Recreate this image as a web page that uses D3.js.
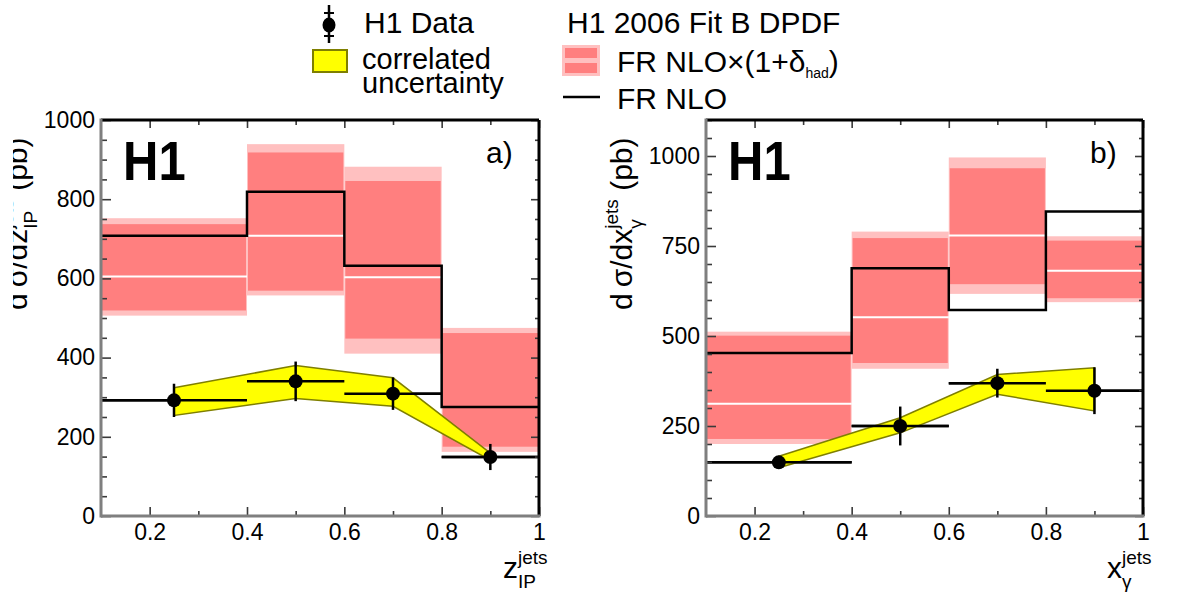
<!DOCTYPE html>
<html>
<head>
<meta charset="utf-8">
<script src="https://cdn.jsdelivr.net/npm/d3@7"></script>
<style>
  html, body { margin: 0; padding: 0; background: #fff; }
  svg { display: block; }
</style>
</head>
<body>
<div id="chart"></div>
<script>
// H1 diffractive dijets: dσ/dz_IP and dσ/dx_γ, data vs FR NLO (two panels)

// bins + data x positions (shared by both panels)
const binEdges = [0.1, 0.4, 0.6, 0.8, 1.0];
const dataX = [0.25, 0.5, 0.7, 0.9];

// panel a) — z_IP
const zNlo      = [708, 819, 632, 275];
const zHad      = [605, 708, 603, 275];
const zHadInLo  = [519, 569, 448, 175];
const zHadInHi  = [737, 918, 846, 462];
const zHadOutLo = [506, 557, 410, 162];
const zHadOutHi = [752, 939, 882, 475];
const zData     = [292, 340, 309, 149];
const zErr      = [42, 50, 41, 33];
const zCorrLo   = [254, 297, 277, 141];
const zCorrHi   = [324, 380, 349, 159];

// panel b) — x_gamma
const gNlo      = [453, 688, 572, 846];
const gHad      = [312, 552, 779, 681];
const gHadInLo  = [214, 425, 644, 605];
const gHadInHi  = [501, 772, 966, 765];
const gHadOutLo = [200, 409, 617, 594];
const gHadOutHi = [512, 790, 996, 777];
const gData     = [149, 250, 369, 348];
const gErr      = [14, 54, 40, 65];
const gCorrLo   = [134, 231, 338, 292];
const gCorrHi   = [166, 273, 393, 412];

// axis ticks
const xMajor = [0.2, 0.4, 0.6, 0.8, 1.0];
const xMinor = [0.3, 0.5, 0.7, 0.9];
const zYMajor = [0, 200, 400, 600, 800, 1000];
const gYMajor = [0, 250, 500, 750, 1000];

const FONT = "'Liberation Sans', Arial, Helvetica, sans-serif";
const PAL = {
  outer: '#ffc0c0',
  inner: '#ff7f7f',
  centre: '#ffffff',
  ink: '#000000',
  corr: '#ffff00',
  corrEdge: '#7f7f00',
  axis: '#7f7f7f',
  tick: '#3a3a3a',
};

const W = 1178, H = 595;
const TOP = 120, BOTTOM = 516;

const svg = d3.select('#chart').append('svg')
  .attr('width', W).attr('height', H)
  .style('font-family', FONT);

// text with stacked sub/superscripts; groups advance by their widest piece
function rich(g, x, y, groups, base) {
  let cx = x;
  groups.forEach(grp => {
    let w = 0;
    grp.forEach(p => {
      const t = g.append('text')
        .attr('x', cx).attr('y', y + (p.dy || 0))
        .attr('font-size', p.size || base)
        .attr('fill', PAL.ink)
        .text(p.t);
      w = Math.max(w, t.node().getComputedTextLength());
    });
    cx += w;
  });
  return cx;
}

function panel(o) {
  const x = d3.scaleLinear().domain([0.1, 1]).range([o.left, o.right]);
  const y = d3.scaleLinear().domain([0, o.yMax]).range([BOTTOM, TOP]);
  const g = svg.append('g');
  const bins = d3.range(binEdges.length - 1);
  const bx = i => x(binEdges[i]);
  const bw = i => x(binEdges[i + 1]) - x(binEdges[i]);

  // FR NLO x (1+δhad) bands
  g.selectAll('rect.outer').data(bins).join('rect')
    .attr('x', bx).attr('width', bw)
    .attr('y', i => y(o.outHi[i]))
    .attr('height', i => y(o.outLo[i]) - y(o.outHi[i]))
    .attr('fill', PAL.outer);
  g.selectAll('rect.inner').data(bins).join('rect')
    .attr('x', i => bx(i) + 1).attr('width', i => bw(i) - 2)
    .attr('y', i => y(o.inHi[i]))
    .attr('height', i => y(o.inLo[i]) - y(o.inHi[i]))
    .attr('fill', PAL.inner);
  g.selectAll('line.centre').data(bins).join('line')
    .attr('x1', bx).attr('x2', i => bx(i) + bw(i))
    .attr('y1', i => y(o.had[i])).attr('y2', i => y(o.had[i]))
    .attr('stroke', PAL.centre).attr('stroke-width', 2);

  // FR NLO histogram
  const steps = binEdges.map((e, i) => [e, o.nlo[Math.min(i, o.nlo.length - 1)]]);
  g.append('path')
    .attr('d', d3.line().x(d => x(d[0])).y(d => y(d[1])).curve(d3.curveStepAfter)(steps))
    .attr('fill', 'none').attr('stroke', PAL.ink).attr('stroke-width', 2.5);

  // data: horizontal bin bars
  g.selectAll('line.hbar').data(bins).join('line')
    .attr('x1', bx).attr('x2', i => bx(i) + bw(i))
    .attr('y1', i => y(o.data[i])).attr('y2', i => y(o.data[i]))
    .attr('stroke', PAL.ink).attr('stroke-width', 2.5);

  // correlated uncertainty band
  const corr = dataX.map((v, i) => [v, o.corrLo[i], o.corrHi[i]]);
  g.append('path')
    .attr('d', d3.area().x(d => x(d[0])).y0(d => y(d[1])).y1(d => y(d[2]))(corr))
    .attr('fill', PAL.corr).attr('stroke', PAL.corrEdge).attr('stroke-width', 1.5);

  // data: horizontal bars again on top, vertical error bars, markers
  g.selectAll('line.hbar2').data(bins).join('line')
    .attr('x1', bx).attr('x2', i => bx(i) + bw(i))
    .attr('y1', i => y(o.data[i])).attr('y2', i => y(o.data[i]))
    .attr('stroke', PAL.ink).attr('stroke-width', 2.5);
  g.selectAll('line.vbar').data(bins).join('line')
    .attr('x1', i => x(dataX[i])).attr('x2', i => x(dataX[i]))
    .attr('y1', i => y(o.data[i] - o.err[i])).attr('y2', i => y(o.data[i] + o.err[i]))
    .attr('stroke', PAL.ink).attr('stroke-width', 2.5);
  g.selectAll('circle.pt').data(bins).join('circle')
    .attr('cx', i => x(dataX[i])).attr('cy', i => y(o.data[i]))
    .attr('r', 7).attr('fill', PAL.ink);

  // axes — ticks point inward, domain lines replaced by frame
  const styleAxis = sel => {
    sel.select('.domain').remove();
    sel.selectAll('.tick line').attr('stroke', PAL.tick).attr('stroke-width', 1.6);
    sel.selectAll('.tick text').attr('fill', PAL.ink).attr('font-size', 23)
      .attr('font-family', FONT);
  };
  const fmt = d3.format('~g');
  const yMinor = d3.range(0, o.yMax + 1, 50).filter(v => !o.yMajor.includes(v));

  g.append('g').attr('transform', `translate(0,${BOTTOM})`)
    .call(d3.axisBottom(x).tickValues(xMajor).tickSize(-9).tickPadding(8).tickFormat(fmt))
    .call(styleAxis);
  g.append('g').attr('transform', `translate(0,${BOTTOM})`)
    .call(d3.axisBottom(x).tickValues(xMinor).tickSize(-5).tickFormat(''))
    .call(styleAxis);
  g.append('g').attr('transform', `translate(0,${TOP})`)
    .call(d3.axisTop(x).tickValues(xMajor).tickSize(-8).tickFormat(''))
    .call(styleAxis);
  g.append('g').attr('transform', `translate(0,${TOP})`)
    .call(d3.axisTop(x).tickValues(xMinor).tickSize(-5).tickFormat(''))
    .call(styleAxis);
  g.append('g').attr('transform', `translate(${o.left},0)`)
    .call(d3.axisLeft(y).tickValues(o.yMajor).tickSize(-10).tickPadding(6).tickFormat(fmt))
    .call(styleAxis);
  g.append('g').attr('transform', `translate(${o.left},0)`)
    .call(d3.axisLeft(y).tickValues(yMinor).tickSize(-6).tickFormat(''))
    .call(styleAxis);
  g.append('g').attr('transform', `translate(${o.right},0)`)
    .call(d3.axisRight(y).tickValues(o.yMajor).tickSize(-8).tickFormat(''))
    .call(styleAxis);
  g.append('g').attr('transform', `translate(${o.right},0)`)
    .call(d3.axisRight(y).tickValues(yMinor).tickSize(-4).tickFormat(''))
    .call(styleAxis);

  // frame
  const frame = [
    [o.left, TOP, o.right, TOP, PAL.ink],
    [o.right, TOP, o.right, BOTTOM, PAL.ink],
    [o.left, TOP - 1.5, o.left, BOTTOM + 1.5, PAL.axis],
    [o.left, BOTTOM, o.right + 1.5, BOTTOM, PAL.axis],
  ];
  g.selectAll('line.frame').data(frame).join('line')
    .attr('x1', d => d[0]).attr('y1', d => d[1]).attr('x2', d => d[2]).attr('y2', d => d[3])
    .attr('stroke', d => d[4]).attr('stroke-width', 3);

  // in-plot labels
  g.append('text')
    .attr('transform', `translate(${o.left + 22},180) scale(1,1.15)`)
    .attr('font-size', 49).attr('font-weight', 'bold').attr('fill', PAL.ink)
    .text('H1');
  g.append('text')
    .attr('x', o.right - 53).attr('y', 163)
    .attr('font-size', 30).attr('fill', PAL.ink)
    .text(o.tag);

  // x title
  rich(g, o.right - 36, 578, o.xTitle, 30);

  // y title (rotated)
  const yt = g.append('g')
    .attr('transform', `translate(${o.left - 74},310) rotate(-90)`);
  rich(yt, 0, 0, o.yTitle, 30);
  return yt;
}

const subA = [{ t: 'IP', size: 19, dy: 10 }, { t: 'jets', size: 19, dy: -14 }];
const subB = [{ t: 'γ', size: 19, dy: 10 }, { t: 'jets', size: 19, dy: -14 }];

// left y title is cropped at the image edge in the original
svg.append('clipPath').attr('id', 'leftcrop')
  .append('rect').attr('x', 13).attr('y', 0).attr('width', 200).attr('height', H);
const leftTitleHolder = svg.append('g').attr('clip-path', 'url(#leftcrop)');

panel({
  left: 101, right: 539, yMax: 1000, yMajor: zYMajor, tag: 'a)',
  nlo: zNlo, had: zHad, inLo: zHadInLo, inHi: zHadInHi, outLo: zHadOutLo, outHi: zHadOutHi,
  data: zData, err: zErr, corrLo: zCorrLo, corrHi: zCorrHi,
  xTitle: [[{ t: 'z' }], subA],
  yTitle: [[{ t: 'd\u2009σ/dz' }], subA, [{ t: '\u00a0(pb)' }]],
}).each(function () { leftTitleHolder.node().appendChild(this); });

panel({
  left: 706, right: 1143, yMax: 1100, yMajor: gYMajor, tag: 'b)',
  nlo: gNlo, had: gHad, inLo: gHadInLo, inHi: gHadInHi, outLo: gHadOutLo, outHi: gHadOutHi,
  data: gData, err: gErr, corrLo: gCorrLo, corrHi: gCorrHi,
  xTitle: [[{ t: 'x' }], subB],
  yTitle: [[{ t: 'd\u2009σ/dx' }], subB, [{ t: '\u00a0(pb)' }]],
});

// legend
const lg = svg.append('g');
lg.append('line').attr('x1', 329).attr('x2', 329).attr('y1', 5).attr('y2', 43)
  .attr('stroke', PAL.ink).attr('stroke-width', 2.5);
lg.selectAll('line.cap').data([13, 36]).join('line')
  .attr('x1', 324).attr('x2', 334).attr('y1', d => d).attr('y2', d => d)
  .attr('stroke', PAL.ink).attr('stroke-width', 2);
lg.append('ellipse').attr('cx', 329).attr('cy', 25).attr('rx', 6.5).attr('ry', 7.5)
  .attr('fill', PAL.ink);
lg.append('rect').attr('x', 313).attr('y', 50).attr('width', 34).attr('height', 22)
  .attr('fill', PAL.corr).attr('stroke', PAL.corrEdge).attr('stroke-width', 2);

lg.append('rect').attr('x', 562).attr('y', 45).attr('width', 38).attr('height', 31)
  .attr('fill', PAL.outer);
lg.selectAll('rect.lin').data([[48, 10], [63, 10]]).join('rect')
  .attr('x', 565).attr('width', 32).attr('y', d => d[0]).attr('height', d => d[1])
  .attr('fill', PAL.inner);
lg.append('line').attr('x1', 563).attr('x2', 600).attr('y1', 97).attr('y2', 97)
  .attr('stroke', PAL.ink).attr('stroke-width', 2.5);

const legendText = [
  ['H1 Data', 364, 33, 30],
  ['correlated', 362, 69, 29],
  ['uncertainty', 362, 93, 29],
  ['H1 2006 Fit B DPDF', 567, 33, 30],
  ['FR NLO', 617, 109, 30],
];
lg.selectAll('text.lt').data(legendText).join('text')
  .attr('x', d => d[1]).attr('y', d => d[2])
  .attr('font-size', d => d[3]).attr('fill', PAL.ink)
  .text(d => d[0]);
rich(lg, 617, 72, [[{ t: 'FR NLO×(1+δ' }], [{ t: 'had', size: 14, dy: 6 }], [{ t: ')' }]], 30);
</script>
</body>
</html>
